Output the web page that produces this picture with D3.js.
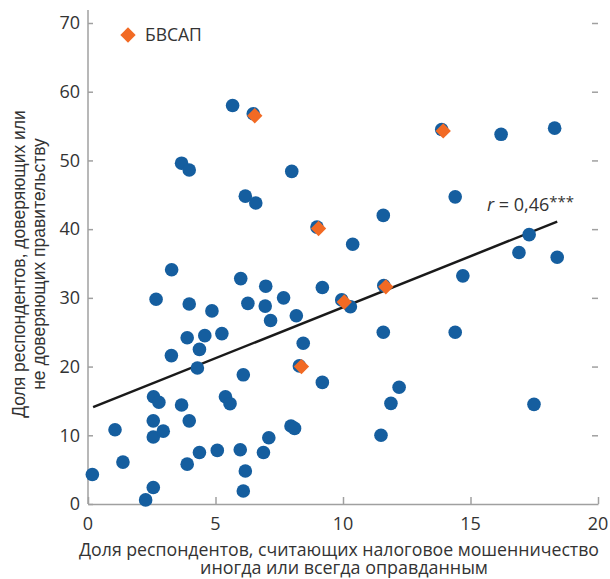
<!DOCTYPE html>
<html>
<head>
<meta charset="utf-8">
<script src="https://cdn.jsdelivr.net/npm/d3@7"></script>
<style>
  body { margin: 0; background: #fff; }
  text { font-family: "Open Sans", Lato, sans-serif; fill: #333; }
</style>
</head>
<body>
<svg id="chart" width="610" height="579"></svg>
<script>
'use strict';

// countries: share justifying tax fraud (x) vs share trusting/not trusting government (y)
const fraudShare = [
  5.67, 6.48, 3.67, 3.97, 7.99, 6.17, 6.58, 3.28, 5.99, 6.97,
  13.87, 16.2, 18.3, 14.4, 11.58, 8.98, 10.38, 17.3, 16.9, 18.4,
  14.7, 9.19, 11.6, 2.67, 3.97, 4.86, 6.27, 6.95, 7.67, 7.16,
  8.17, 3.89, 4.58, 5.25, 4.37, 3.27, 8.44, 4.29, 6.09, 8.29,
  2.57, 2.78, 3.67, 5.39, 5.57, 1.06, 2.56, 3.97, 2.56, 2.95,
  7.09, 7.96, 8.1, 1.37, 0.17, 4.37, 5.07, 5.97, 6.88, 3.89,
  6.17, 2.56, 6.09, 2.26, 9.95, 10.29, 11.58, 14.4, 9.19, 12.2,
  11.88, 17.49, 11.49
];
const trustShare = [
  58.0, 56.8, 49.6, 48.6, 48.4, 44.8, 43.8, 34.1, 32.8, 31.7,
  54.5, 53.8, 54.7, 44.7, 42.0, 40.3, 37.8, 39.2, 36.6, 35.9,
  33.2, 31.5, 31.8, 29.8, 29.1, 28.1, 29.2, 28.8, 30.0, 26.7,
  27.4, 24.2, 24.5, 24.8, 22.5, 21.6, 23.4, 19.8, 18.8, 20.1,
  15.6, 14.8, 14.4, 15.6, 14.6, 10.8, 12.1, 12.1, 9.75, 10.6,
  9.65, 11.35, 11.0, 6.1, 4.3, 7.5, 7.8, 7.9, 7.5, 5.8,
  4.8, 2.4, 1.9, 0.6, 29.7, 28.7, 25.0, 25.0, 17.7, 17.0,
  14.65, 14.5, 10.0
];

// БВСАП countries
const bvsapX = [6.54, 13.93, 9.04, 11.68, 8.37, 10.05];
const bvsapY = [56.5, 54.3, 40.1, 31.6, 20.0, 29.4];

// fitted line end points
const fitX = [0.2, 18.4];
const fitY = [14.1, 41.1];

const xTicks = [0, 5, 10, 15, 20];
const yTicks = [0, 10, 20, 30, 40, 50, 60, 70];

const blue = '#155e9f';
const orange = '#f26a24';
const axisGrey = '#a0a0a0';

const svg = d3.select('#chart');

const x = d3.scaleLinear().domain([0, 20]).range([88, 598]);
const y = d3.scaleLinear().domain([0, 70]).range([504, 23]);

// left axis, ticks pointing inward
const yAxis = svg.append('g')
  .attr('transform', `translate(${x(0)},0)`)
  .call(d3.axisRight(y).tickValues(yTicks).tickSize(5).tickFormat(''));
yAxis.select('.domain').remove();
yAxis.selectAll('line').attr('stroke', axisGrey).attr('stroke-width', 1.5);
svg.append('line')
  .attr('x1', x(0)).attr('x2', x(0))
  .attr('y1', 10).attr('y2', y(0))
  .attr('stroke', axisGrey).attr('stroke-width', 1.5);
svg.append('g').selectAll('text')
  .data(yTicks)
  .join('text')
  .attr('x', 80)
  .attr('y', (d) => y(d))
  .attr('dy', '0.35em')
  .attr('text-anchor', 'end')
  .style('font-size', '18px')
  .text((d) => d);

// right side: ticks only
const yRight = svg.append('g')
  .attr('transform', `translate(${x(20)},0)`)
  .call(d3.axisLeft(y).tickValues(yTicks.slice(1)).tickSize(6).tickFormat(''));
yRight.select('.domain').remove();
yRight.selectAll('line').attr('stroke', axisGrey).attr('stroke-width', 1.5);

// bottom axis, ticks pointing up
const xAxis = svg.append('g')
  .attr('transform', `translate(0,${y(0)})`)
  .call(d3.axisTop(x).tickValues(xTicks).tickSize(7).tickSizeOuter(0).tickFormat(''));
xAxis.select('.domain').attr('stroke', axisGrey).attr('stroke-width', 1.5);
xAxis.selectAll('line').attr('stroke', axisGrey).attr('stroke-width', 1.5);
svg.append('g').selectAll('text')
  .data(xTicks)
  .join('text')
  .attr('x', (d) => x(d))
  .attr('y', 530)
  .attr('text-anchor', 'middle')
  .style('font-size', '18px')
  .text((d) => d);

// axis titles
svg.append('text')
  .attr('x', 339).attr('y', 556)
  .attr('text-anchor', 'middle')
  .attr('textLength', 520).attr('lengthAdjust', 'spacingAndGlyphs')
  .style('font-size', '17.5px')
  .text('Доля респондентов, считающих налоговое мошенничество');
svg.append('text')
  .attr('x', 344).attr('y', 574)
  .attr('text-anchor', 'middle')
  .attr('textLength', 288).attr('lengthAdjust', 'spacingAndGlyphs')
  .style('font-size', '17.5px')
  .text('иногда или всегда оправданным');

const yTitle = svg.append('text')
  .attr('transform', 'translate(25,264) rotate(-90)')
  .attr('text-anchor', 'middle')
  .style('font-family', '"Liberation Sans", Arial, sans-serif')
  .style('font-size', '17.5px');
yTitle.append('tspan').attr('x', 0).text('Доля респондентов, доверяющих или');
yTitle.append('tspan').attr('x', 0).attr('dy', 20).text('не доверяющих правительству');

// regression line
svg.append('line')
  .attr('x1', x(fitX[0])).attr('y1', y(fitY[0]))
  .attr('x2', x(fitX[1])).attr('y2', y(fitY[1]))
  .attr('stroke', '#1a1a1a').attr('stroke-width', 2.5);

// points
svg.append('g').selectAll('circle')
  .data(d3.zip(fraudShare, trustShare))
  .join('circle')
  .attr('cx', (d) => x(d[0]))
  .attr('cy', (d) => y(d[1]))
  .attr('r', 6.8)
  .attr('fill', blue);

const diamond = d3.symbol().type(d3.symbolDiamond2).size(150);
svg.append('g').selectAll('path')
  .data(d3.zip(bvsapX, bvsapY))
  .join('path')
  .attr('transform', (d) => `translate(${x(d[0])},${y(d[1])})`)
  .attr('d', diamond)
  .attr('fill', orange);

// r annotation
const rText = svg.append('text')
  .attr('x', 487).attr('y', 211)
  .style('font-size', '18px');
rText.append('tspan').style('font-style', 'italic').text('r');
rText.append('tspan').text(' = 0,46');
rText.append('tspan').attr('dy', -4).style('font-size', '15px').text('***');

// legend
svg.append('path')
  .attr('transform', 'translate(128,35)')
  .attr('d', diamond)
  .attr('fill', orange);
svg.append('text')
  .attr('x', 145).attr('y', 41)
  .style('font-size', '17.5px')
  .text('БВСАП');
</script>
</body>
</html>
